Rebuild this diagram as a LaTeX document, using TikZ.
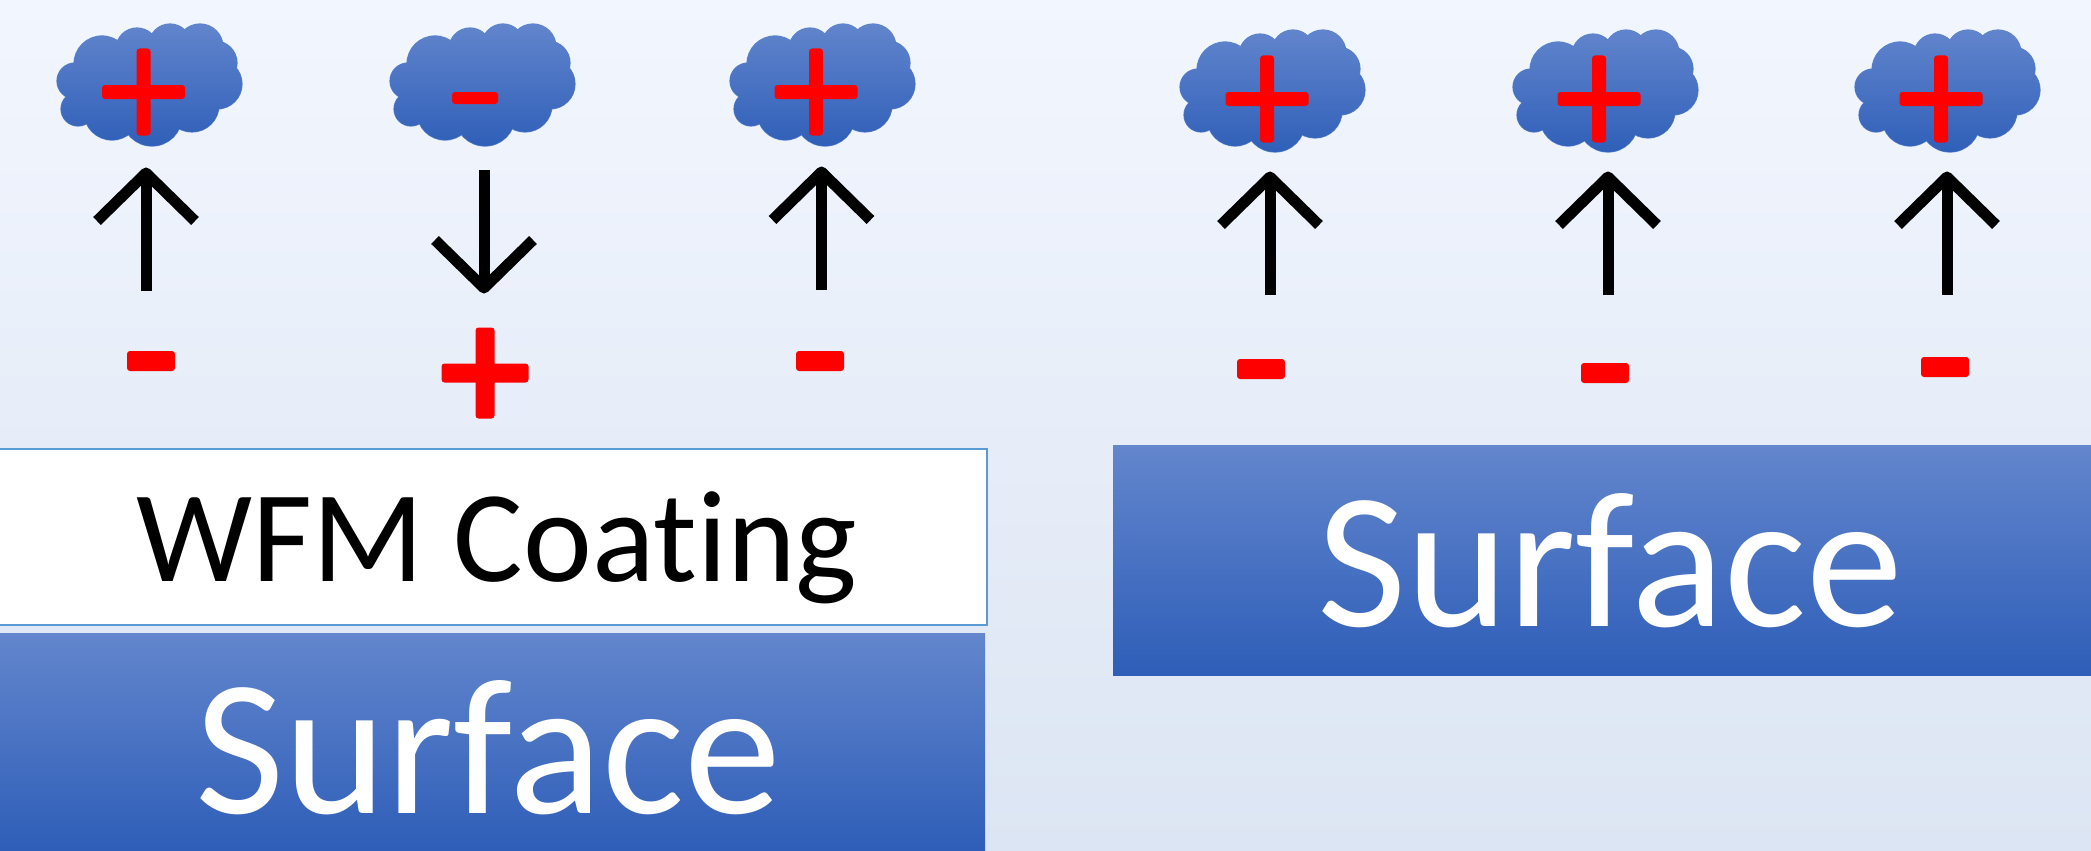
\documentclass[tikz,border=0pt]{standalone}
\usepackage{fontspec}
\setmainfont{Carlito}[Ligatures=NoCommon]
\usetikzlibrary{calc}
\definecolor{bgtop}{HTML}{F2F6FE}
\definecolor{bgbot}{HTML}{DCE5F3}
\definecolor{blutop}{HTML}{6386CD}
\definecolor{blubot}{HTML}{2E5EB8}
\definecolor{edgeblue}{HTML}{5B9BD5}
\definecolor{rimblue}{HTML}{5A82CC}
\newcommand{\lobes}{
  (-48,-21) circle (28) (-13,-36) circle (21) (20,-40) circle (21) (50,-38) circle (23)
  (65,-22) circle (22) (67,-1) circle (25) (42,20) circle (27) (2,31) circle (30)
  (-38,27) circle (28) (-72,24) circle (17) (-75,-4) circle (18)
  (-30,-10) circle (30) (10,-5) circle (35) (40,-15) circle (28) (-55,15) circle (18)
}
\newcommand{\cloudshape}[1]{%
  \begin{scope}[shift={(#1)}]
    \draw[rimblue,line width=1.2pt] \lobes;
    \begin{scope}
      \clip \lobes;
      \shade[top color=blutop,bottom color=blubot,shading angle=0] (-95,-65) rectangle (95,65);
    \end{scope}
  \end{scope}}
\newcommand{\plusmark}[3][14]{%
  \fill[redmark] ($(#2)+(-#3/2,-#1/2)$) rectangle ($(#2)+(#3/2,#1/2)$);
  \fill[redmark] ($(#2)+(-#1/2,-#3/2-2)$) rectangle ($(#2)+(#1/2,#3/2+2)$);}
\newcommand{\minusmark}[2][20]{%
  \fill[redmark] ($(#2)+(-24,-#1/2)$) rectangle ($(#2)+(24,#1/2)$);}
\newcommand{\myuparrow}[3]{%
  \coordinate (t#1) at (#2,#3);
  \coordinate (b#1) at (#2,#3+118);
  \coordinate (l#1) at (#2-49,#3+48);
  \coordinate (r#1) at (#2+49,#3+48);
  \draw[arrowline] (b#1) -- (t#1);
  \draw[arrowline] (l#1) -- (t#1) -- (r#1);}
\tikzset{
  redmark/.style={red,rounded corners=3pt},
  arrowline/.style={black,line width=11pt,line join=round},
  surfbox/.style={top color=blutop,bottom color=blubot,shading angle=0},
  surftext/.style={text=white,inner sep=0pt,anchor=base,font=\fontsize{194}{194}\selectfont},
  wfmtext/.style={text=black,inner sep=0pt,anchor=base,font=\fontsize{130.5}{130.5}\selectfont}
}
\begin{document}
\begin{tikzpicture}[x=1pt,y=-1pt]
\useasboundingbox (0,0) rectangle (2091,851);
\shade[top color=bgtop,bottom color=bgbot,shading angle=0] (0,0) rectangle (2091,851);

% clouds
\cloudshape{150,85}
\cloudshape{483,85}
\cloudshape{823,85}
\cloudshape{1273,91}
\cloudshape{1606,91}
\cloudshape{1948,91}

% cloud charges
\plusmark{143.5,92}{83}
\fill[redmark] (452,92) rectangle (498,104);
\plusmark{816,92}{83}
\plusmark{1267,99}{83}
\plusmark{1599,99}{83}
\plusmark{1941,99}{83}

% arrows
\myuparrow{a}{146}{173}
\coordinate (tb) at (484,288);
\coordinate (bb) at (484,170);
\coordinate (lb) at (435,240);
\coordinate (rb) at (533,240);
\draw[arrowline] (bb) -- (tb);
\draw[arrowline] (lb) -- (tb) -- (rb);
\myuparrow{c}{821.5}{172}
\myuparrow{d}{1270}{177}
\myuparrow{e}{1608}{177}
\myuparrow{f}{1947}{177}

% lower charges
\minusmark{151,361}
\plusmark[19]{485,373}{87}
\minusmark{820,361}
\minusmark{1261,369}
\minusmark{1605,373}
\minusmark{1945,367}

% left stack
\node[draw=edgeblue,fill=white,line width=2pt,minimum width=990pt,minimum height=176pt,inner sep=0pt,anchor=north west] (wfmbox) at (-4,448) {};
\shade[surfbox] (0,633) rectangle (985,851);
\node[surftext] (surfl) at (488,813) {Surface};
\node[wfmtext] (wfm) at (497,581) {WFM Coating};

% right surface
\shade[surfbox] (1113,445) rectangle (2091,675);
\node[surftext] (surfr) at (1610,626) {Surface};
\end{tikzpicture}
\end{document}
